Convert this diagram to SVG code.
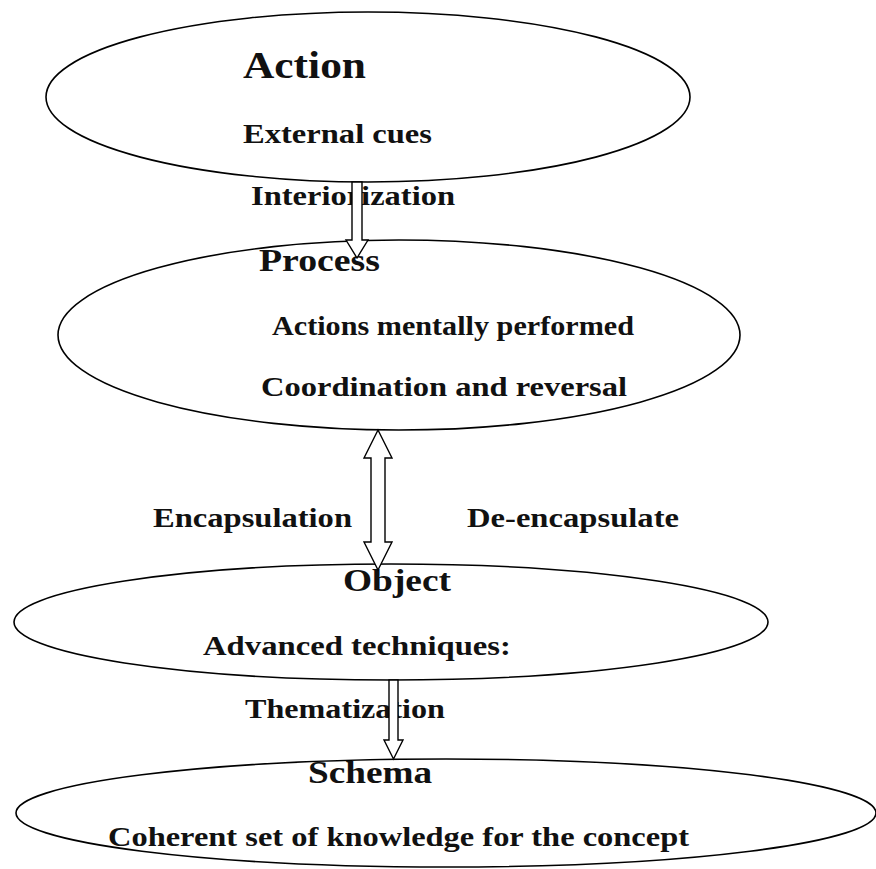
<svg xmlns="http://www.w3.org/2000/svg" width="876" height="869" viewBox="0 0 876 869">
  <style>
    .node { fill: #ffffff; stroke: #000000; stroke-width: 1.6; }
    .arrow { fill: #ffffff; stroke: #000000; stroke-width: 1.4; stroke-linejoin: miter; }
    text { font-family: "Liberation Serif", "Times New Roman", serif; font-weight: bold; fill: #111111; }
    .head { font-size: 37px; }
    .title { font-size: 32px; }
    .body { font-size: 27px; }
  </style>
  <rect width="876" height="869" fill="#ffffff"/>

  <g id="action">
    <ellipse class="node" cx="368" cy="97" rx="322" ry="85"/>
    <text class="head" x="243" y="78" textLength="123" lengthAdjust="spacingAndGlyphs">Action</text>
    <text class="body" x="243" y="143" textLength="189" lengthAdjust="spacingAndGlyphs">External cues</text>
  </g>

  <g id="process">
    <ellipse class="node" cx="399" cy="335" rx="341" ry="95"/>
    <text class="title" x="259" y="271" textLength="121" lengthAdjust="spacingAndGlyphs">Process</text>
    <text class="body" x="272" y="335" textLength="362" lengthAdjust="spacingAndGlyphs">Actions mentally performed</text>
    <text class="body" x="261" y="396" textLength="366" lengthAdjust="spacingAndGlyphs">Coordination and reversal</text>
  </g>

  <g id="object">
    <ellipse class="node" cx="391" cy="622" rx="377" ry="58"/>
    <text class="title" x="343" y="591" textLength="108" lengthAdjust="spacingAndGlyphs">Object</text>
    <text class="body" x="203" y="655" textLength="308" lengthAdjust="spacingAndGlyphs">Advanced techniques:</text>
  </g>

  <g id="schema">
    <ellipse class="node" cx="446" cy="813" rx="430" ry="54"/>
    <text class="title" x="308" y="783" textLength="124" lengthAdjust="spacingAndGlyphs">Schema</text>
    <text class="body" x="108" y="846" textLength="581" lengthAdjust="spacingAndGlyphs">Coherent set of knowledge for the concept</text>
  </g>

  <g id="connectors">
    <text class="body" x="251" y="205" textLength="204" lengthAdjust="spacingAndGlyphs">Interiorization</text>
    <polygon class="arrow" points="352,182 362,182 362,240 368,240 357,258 346,240 352,240"/>

    <text class="body" x="153" y="527" textLength="199" lengthAdjust="spacingAndGlyphs">Encapsulation</text>
    <text class="body" x="467" y="527" textLength="212" lengthAdjust="spacingAndGlyphs">De-encapsulate</text>
    <polygon class="arrow" points="378,430 392,458 385,458 385,542 392,542 378,570 364,542 371,542 371,458 364,458"/>

    <text class="body" x="245" y="718" textLength="200" lengthAdjust="spacingAndGlyphs">Thematization</text>
    <polygon class="arrow" points="389,680 398,680 398,740 403,740 393.5,759 384,740 389,740"/>
  </g>
</svg>
